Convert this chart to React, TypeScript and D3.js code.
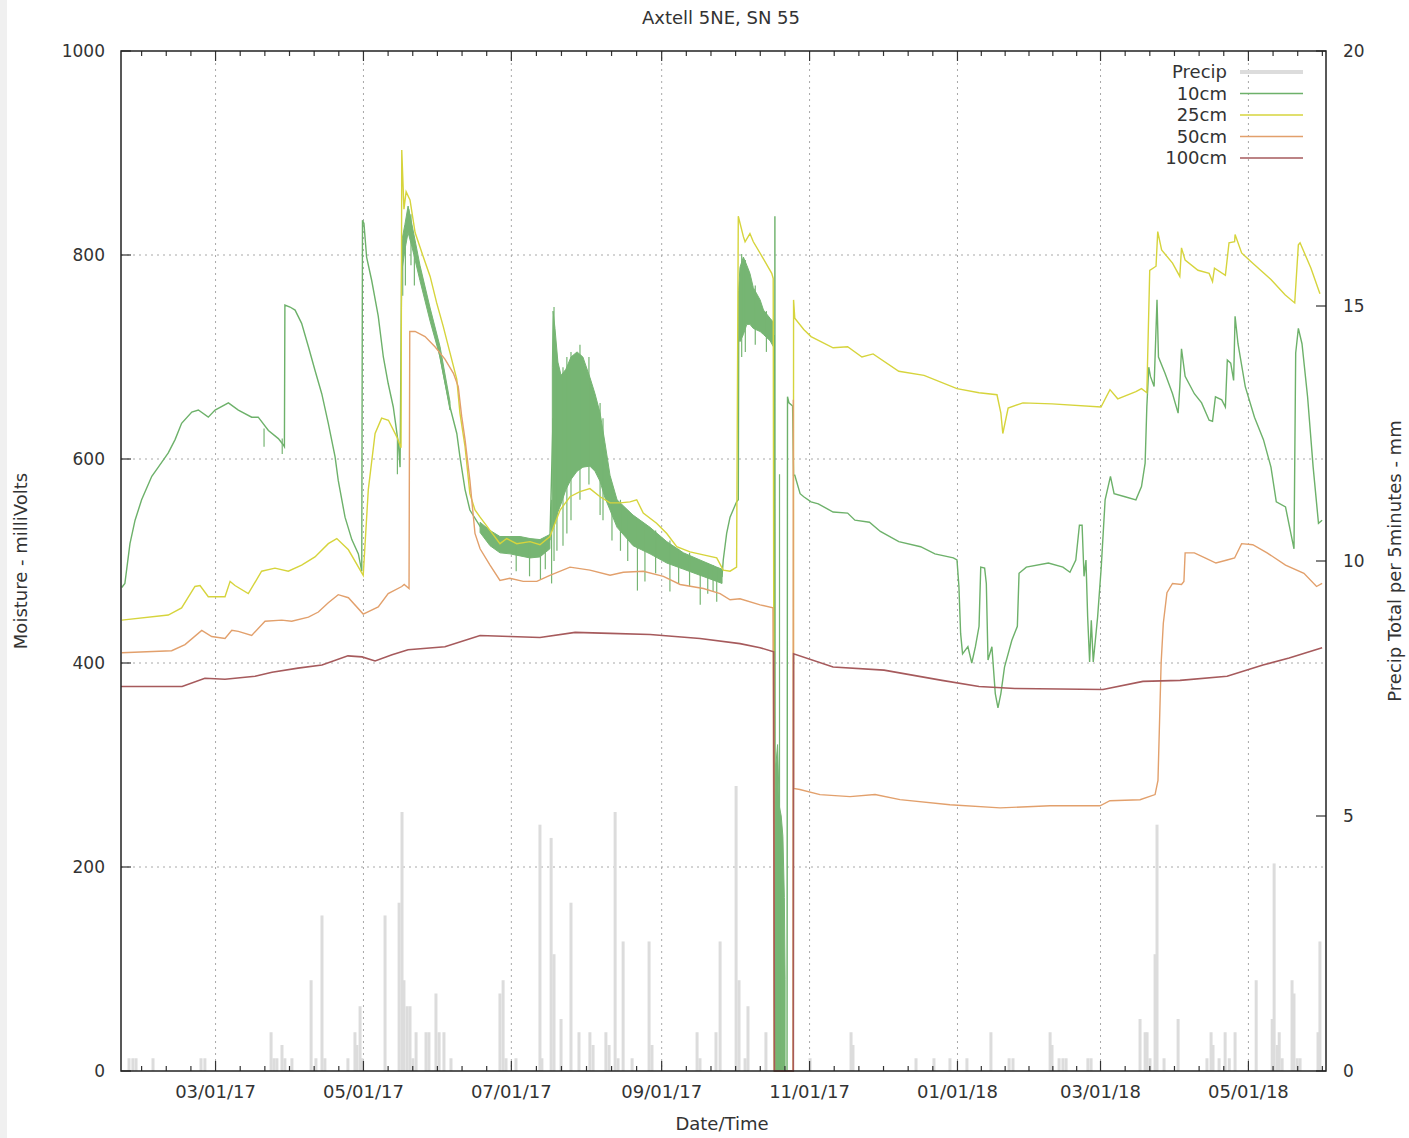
import React from 'react';
import * as d3 from 'd3';

// ---------- data (day = days since 2017-01-01, UTC) ----------
const titleText = 'Axtell 5NE, SN 55';
const xDomainDays: [number, number] = [20, 517];
const leftTicks = [0, 200, 400, 600, 800, 1000];
const rightTicks = [0, 5, 10, 15, 20];
const legendLabels = ['Precip', '10cm', '25cm', '50cm', '100cm'];

// precip total per 5 minutes (mm)
const precip: [number, number][] = [
  [23.3, 0.25], [24.9, 0.25], [26.2, 0.25], [33.2, 0.25], [53.0, 0.25], [54.6, 0.25],
  [81.9, 0.76], [83.1, 0.25], [84.3, 0.25], [86.4, 0.51], [87.6, 0.25], [90.5, 0.25],
  [98.4, 1.78], [100.4, 0.25], [102.9, 3.05], [104.1, 0.25], [113.6, 0.25], [116.5, 0.76],
  [117.3, 0.51], [118.6, 1.27], [119.4, 0.25], [128.9, 3.05], [134.7, 3.30], [135.9, 5.08],
  [136.7, 1.78], [138.0, 1.27], [139.2, 1.27], [140.4, 0.25], [141.7, 0.76], [145.8, 0.76],
  [147.0, 0.76], [149.9, 1.52], [151.2, 0.76], [153.2, 0.76], [156.1, 0.25], [176.3, 1.52],
  [177.6, 1.78], [178.8, 0.25], [182.9, 0.25], [192.8, 4.83], [193.6, 0.25], [197.4, 4.57],
  [198.6, 2.29], [201.5, 1.02], [205.6, 3.30], [208.9, 0.76], [213.4, 0.76], [214.7, 0.51],
  [220.0, 0.76], [221.3, 0.51], [223.8, 5.08], [225.0, 0.25], [227.1, 2.54], [230.8, 0.25],
  [237.8, 2.54], [239.0, 0.51], [257.6, 0.76], [258.8, 0.25], [265.4, 0.76], [267.1, 2.54],
  [273.7, 5.59], [274.9, 1.78], [277.4, 0.25], [278.6, 1.27], [286.0, 0.76], [304.2, 0.25],
  [321.1, 0.76], [321.9, 0.51], [347.9, 0.25], [355.3, 0.25], [361.9, 0.25], [368.9, 0.25],
  [378.8, 0.76], [386.3, 0.25], [387.9, 0.25], [403.2, 0.76], [404.0, 0.51], [406.9, 0.25],
  [408.5, 0.25], [409.8, 0.25], [418.8, 0.25], [420.1, 0.25], [440.3, 1.02], [442.4, 0.76],
  [443.2, 0.76], [444.4, 0.25], [446.5, 2.29], [447.3, 4.83], [450.2, 0.25], [456.0, 1.02],
  [467.9, 0.25], [469.6, 0.76], [470.4, 0.51], [472.9, 0.25], [475.4, 0.76], [477.1, 0.25],
  [479.5, 0.76], [488.2, 1.78], [494.8, 1.02], [495.6, 4.07], [496.9, 0.51], [497.7, 0.76],
  [498.9, 0.25], [503.0, 1.78], [503.8, 1.52], [505.1, 0.25], [506.3, 0.25], [513.7, 0.76],
  [514.5, 2.54],
];

// 10cm soil moisture (mV)
const soil10: [number, number][] = [
  [20.3, 474], [21.6, 478], [23.7, 517], [25.8, 540], [28.5, 560], [32.7, 583], [35.4, 592],
  [39.5, 606], [42.3, 619], [45.0, 635], [49.2, 646], [51.9, 648], [56.0, 641], [58.8, 648],
  [64.3, 655], [68.4, 648], [73.9, 641], [76.6, 641], [80.8, 628], [84.9, 620], [86.9, 614],
  [87.4, 612], [87.6, 751], [89.7, 749], [91.8, 746], [94.5, 733], [97.3, 710], [100.0, 687],
  [102.8, 664], [105.5, 635], [108.3, 602], [109.6, 579], [112.4, 543], [115.2, 521],
  [117.9, 507], [119.3, 490], [119.6, 834], [120.2, 831], [121.3, 798], [123.4, 775],
  [126.1, 740], [128.2, 700], [130.2, 674], [132.3, 651], [134.4, 615], [135.1, 592],
  [135.8, 802], [136.7, 815], [137.8, 830], [138.6, 845], [139.2, 835], [142.0, 798],
  [144.7, 772], [147.5, 740], [150.2, 717], [152.9, 684], [155.7, 651], [158.5, 625],
  [159.8, 602], [161.9, 570], [163.9, 550], [168.1, 534], [172.2, 524], [176.3, 516],
  [184.6, 515], [192.8, 513], [196.9, 521], [198.2, 640], [199.0, 635], [200.2, 622],
  [201.5, 620], [203.5, 630], [205.6, 641], [208.1, 647], [210.5, 647], [213.4, 637],
  [215.5, 628], [217.6, 613], [219.6, 590], [221.7, 567], [224.6, 545], [231.2, 530],
  [238.2, 520], [245.2, 508], [251.8, 500], [258.8, 493], [265.8, 487], [267.9, 485],
  [268.4, 501], [269.8, 527], [271.2, 543], [273.9, 558], [274.6, 560], [274.8, 745],
  [276.7, 755], [278.1, 760], [279.4, 756], [280.8, 748], [283.6, 740], [285.0, 733],
  [287.7, 727], [289.1, 721], [289.4, 716], [289.5, 0], [289.7, 838], [289.8, 0],
  [294.7, 0], [294.9, 661], [295.5, 655], [297.0, 652], [297.4, 584], [297.9, 584],
  [300.1, 566], [301.6, 563], [304.6, 558], [307.6, 556], [313.7, 548], [319.7, 547],
  [322.7, 540], [328.7, 538], [333.2, 529], [340.8, 519], [349.8, 514], [355.7, 507],
  [363.3, 503], [364.8, 501], [365.6, 475], [366.3, 429], [367.1, 409], [369.3, 416],
  [370.9, 400], [372.4, 416], [373.9, 436], [374.6, 494], [376.2, 493], [376.9, 478],
  [377.6, 403], [379.2, 416], [380.6, 370], [381.7, 356], [382.9, 370], [384.4, 396],
  [387.4, 422], [389.7, 436], [390.4, 488], [393.4, 494], [402.5, 498], [408.5, 494],
  [411.4, 489], [413.8, 501], [415.3, 535], [416.4, 535], [417.2, 485], [418.0, 501],
  [418.7, 445], [419.5, 401], [420.2, 442], [421.0, 401], [422.8, 445], [424.3, 494],
  [425.9, 560], [428.1, 583], [429.6, 566], [434.1, 563], [438.6, 560], [440.9, 573],
  [442.4, 596], [443.1, 651], [443.9, 690], [444.6, 681], [446.1, 671], [447.3, 756],
  [447.9, 700], [450.6, 684], [453.7, 664], [456.0, 645], [456.7, 671], [457.4, 708],
  [458.9, 681], [462.7, 664], [465.7, 655], [468.8, 638], [470.2, 637], [471.4, 661],
  [474.0, 658], [475.5, 651], [476.3, 697], [477.7, 694], [478.9, 677], [479.5, 740],
  [480.7, 713], [483.7, 671], [487.5, 641], [491.2, 619], [494.3, 592], [496.5, 558],
  [500.3, 553], [502.5, 527], [503.8, 512], [504.5, 704], [505.6, 728], [507.1, 713],
  [509.4, 661], [511.7, 592], [513.9, 537], [515.4, 540],
];

// 10cm noisy bands: [day, low, high]
const soil10BandEarly: [number, number, number][] = [
  [135.9, 785, 815], [137.1, 805, 830], [138.4, 822, 848], [140.0, 808, 830],
  [143.3, 775, 790], [147.5, 735, 748], [151.6, 700, 710], [155.7, 648, 656],
];
const soil10BandSummer: [number, number, number][] = [
  [168.1, 528, 538], [172.2, 515, 530], [176.3, 508, 524], [180.4, 507, 524],
  [184.6, 505, 524], [188.7, 503, 522], [192.8, 504, 521], [196.9, 512, 526],
];
const soil10BandSwing: [number, number, number][] = [
  [197.9, 530, 690], [198.2, 532, 745], [199.0, 537, 728], [200.2, 548, 695],
  [201.5, 556, 682], [203.5, 570, 688], [205.6, 580, 700], [208.1, 588, 705],
  [210.5, 592, 700], [213.4, 593, 680], [215.5, 588, 664], [217.6, 578, 645],
  [219.6, 562, 616], [221.7, 550, 584], [224.6, 533, 560], [231.2, 515, 545],
  [238.2, 507, 533], [245.1, 498, 519], [252.0, 492, 508], [258.8, 486, 501],
  [265.7, 480, 494], [267.9, 478, 492],
];
const soil10BandFall: [number, number, number][] = [
  [274.7, 720, 765], [275.3, 715, 788], [276.7, 722, 798], [278.1, 732, 790],
  [279.4, 732, 782], [280.8, 728, 768], [283.6, 725, 756], [285.0, 722, 746],
  [287.7, 716, 738], [289.1, 710, 734],
];
const soil10BandOutage: [number, number, number][] = [
  [289.9, 0, 120], [290.1, 0, 300], [290.8, 0, 320], [291.5, 0, 260], [292.3, 0, 250],
  [293.0, 0, 230], [293.6, 0, 170], [293.9, 0, 90],
];
const soil10Spikes: [number, number, number][] = [
  [79.0, 612, 630], [86.5, 605, 620], [134.0, 585, 620], [136.2, 760, 800], [137.3, 770, 810],
  [139.6, 790, 840], [141.0, 770, 800], [183.0, 490, 515], [188.5, 485, 515],
  [193.0, 482, 513], [195.0, 492, 515], [197.6, 478, 560], [198.6, 500, 749],
  [199.8, 510, 700], [202.3, 515, 690], [203.9, 527, 700], [205.6, 540, 705],
  [209.3, 560, 712], [213.0, 575, 700], [217.6, 545, 655], [218.8, 540, 640],
  [222.5, 520, 575], [226.0, 510, 560], [229.0, 500, 545], [233.0, 471, 540],
  [236.1, 480, 535], [240.5, 488, 530], [246.4, 470, 520], [250.0, 478, 512],
  [254.5, 475, 508], [258.9, 457, 500], [262.0, 468, 498], [264.2, 470, 496],
  [265.7, 460, 494], [276.0, 700, 801], [277.5, 705, 795], [281.6, 712, 770],
  [286.2, 705, 745], [291.6, 0, 585],
];

// 25cm soil moisture (mV)
const soil25: [number, number][] = [
  [20.3, 442], [39.5, 447], [45.0, 454], [50.5, 475], [52.6, 476], [56.0, 465], [62.9, 465],
  [65.0, 480], [67.0, 476], [72.5, 468], [78.0, 490], [83.5, 493], [89.0, 490], [94.5, 496],
  [100.0, 504], [105.5, 517], [109.0, 522], [113.8, 511], [119.9, 486], [122.0, 570],
  [124.8, 625], [127.5, 640], [130.3, 638], [133.7, 622], [135.5, 611], [135.8, 903],
  [136.7, 845], [137.6, 862], [139.2, 854], [141.3, 822], [144.7, 798], [147.5, 779],
  [150.2, 753], [152.9, 730], [155.7, 704], [158.5, 678], [159.8, 645], [161.9, 612],
  [163.9, 566], [166.0, 550], [168.1, 543], [172.2, 530], [176.3, 517], [179.1, 522],
  [183.2, 517], [188.7, 519], [192.8, 516], [196.9, 524], [201.1, 550], [205.2, 563],
  [209.3, 568], [213.4, 571], [217.6, 563], [221.7, 557], [225.8, 557], [229.9, 558],
  [232.7, 560], [235.4, 547], [240.9, 537], [245.1, 527], [249.2, 514], [254.7, 509],
  [260.2, 506], [265.7, 503], [268.4, 491], [271.2, 490], [273.9, 494], [274.6, 838],
  [276.7, 818], [277.4, 813], [279.4, 821], [280.8, 813], [284.3, 799], [288.4, 782],
  [289.0, 777], [289.5, 0], [297.3, 0], [297.4, 756], [297.9, 738], [301.6, 727],
  [304.6, 720], [313.7, 709], [319.7, 710], [325.6, 700], [330.2, 703], [340.8, 686],
  [351.2, 682], [364.8, 669], [373.9, 665], [381.3, 663], [382.9, 645], [383.7, 625],
  [385.9, 650], [392.0, 655], [404.0, 654], [424.2, 651], [427.9, 668], [431.1, 659],
  [438.6, 666], [440.9, 669], [443.1, 665], [444.3, 785], [446.9, 789], [447.6, 823],
  [449.2, 805], [453.7, 792], [456.7, 779], [457.4, 807], [458.9, 795], [464.2, 785],
  [468.8, 782], [470.2, 774], [471.0, 787], [475.5, 780], [477.0, 812], [479.3, 813],
  [479.5, 820], [482.2, 802], [486.8, 792], [494.3, 776], [500.1, 761], [504.1, 753],
  [505.6, 810], [506.3, 812], [510.8, 787], [514.5, 762],
];

// 50cm soil moisture (mV)
const soil50: [number, number][] = [
  [20.3, 410], [40.9, 412], [46.4, 418], [53.3, 432], [57.4, 426], [62.9, 424], [65.7, 432],
  [68.4, 431], [73.9, 427], [79.4, 441], [86.3, 442], [90.4, 441], [97.3, 445], [101.4, 450],
  [105.5, 459], [109.6, 467], [113.8, 464], [119.9, 448], [126.1, 455], [130.2, 468],
  [135.8, 475], [136.8, 477], [138.8, 473], [139.1, 725], [141.3, 725], [145.4, 720],
  [149.5, 710], [153.6, 698], [157.1, 684], [159.1, 671], [160.5, 642], [161.9, 619],
  [163.9, 579], [166.0, 527], [168.1, 512], [172.2, 496], [176.3, 481], [180.4, 483],
  [185.9, 480], [191.5, 480], [196.9, 486], [205.2, 494], [213.4, 491], [221.7, 486],
  [227.2, 489], [235.4, 490], [243.7, 485], [250.6, 477], [260.2, 473], [267.1, 468],
  [271.2, 462], [275.3, 463], [283.6, 457], [288.9, 454], [289.5, 0], [297.2, 0],
  [297.3, 658], [297.4, 277], [300.0, 276], [308.3, 271], [320.7, 269], [331.0, 271],
  [341.3, 266], [361.9, 261], [382.6, 258], [403.2, 260], [423.8, 260], [427.9, 265],
  [440.3, 266], [446.5, 271], [447.7, 285], [449.0, 400], [449.9, 439], [451.4, 469],
  [453.7, 478], [457.4, 477], [458.4, 480], [458.9, 508], [462.7, 508], [467.1, 503],
  [471.6, 498], [476.2, 501], [479.3, 503], [482.2, 517], [486.8, 516], [492.7, 508],
  [500.3, 496], [507.9, 488], [513.1, 475], [515.4, 478],
];

// 100cm soil moisture (mV)
const soil100: [number, number][] = [
  [20.0, 377], [45.2, 377], [54.6, 385], [62.9, 384], [75.3, 387], [82.3, 391], [93.0, 395],
  [102.9, 398], [113.6, 407], [119.4, 406], [124.8, 402], [131.8, 408], [138.4, 413],
  [153.6, 416], [168.1, 427], [180.4, 426], [192.8, 425], [207.3, 430], [221.7, 429],
  [238.2, 428], [258.8, 424], [275.3, 419], [283.6, 415], [289.2, 411], [289.5, 0],
  [297.3, 0], [297.4, 409], [313.7, 396], [334.7, 393], [358.6, 383], [373.9, 377],
  [388.7, 375], [425.0, 374], [441.5, 382], [456.8, 383], [476.2, 387], [491.0, 398],
  [501.8, 405], [515.4, 415],
];

// ---------- styling ----------
const colors = {
  precip: '#dcdcdc',
  s10: '#6db16a',
  s10band: '#76b573',
  s25: '#d6d43c',
  s50: '#e2a06c',
  s100: '#a65a5c',
};
const FONT = 'DejaVu Sans, Verdana, sans-serif';

export default function App() {
  const W = 1409;
  const H = 1138;
  const L = 121, R = 1326, T = 51, B = 1071;

  const day0 = Date.UTC(2017, 0, 1);
  const toDate = (d: number) => new Date(day0 + d * 864e5);

  const x = d3.scaleUtc().domain(xDomainDays.map(toDate)).range([L, R]);
  const yL = d3.scaleLinear().domain([0, 1000]).range([B, T]);
  const yR = d3.scaleLinear().domain([0, 20]).range([B, T]);

  const majors = x.ticks(d3.utcMonth.every(2) as any);
  const fmt = d3.utcFormat('%m/%d/%y');
  const [d0, d1] = x.domain().map((d) => d.getTime());
  const minors: number[] = [];
  for (let i = 0; i < majors.length; i++) {
    const a = majors[i].getTime();
    const nxt = i < majors.length - 1 ? majors[i + 1].getTime() : a + (a - majors[i - 1].getTime());
    const step = (nxt - a) / 6;
    for (let k = 1; k < 6; k++) {
      const t = a + k * step;
      if (t < d1) minors.push(t);
    }
    if (i === 0) {
      for (let k = 1; k < 6; k++) {
        const t = a - k * step;
        if (t > d0) minors.push(t);
      }
    }
  }

  const line = d3
    .line<[number, number]>()
    .x((d) => x(toDate(d[0])))
    .y((d) => yL(d[1]));
  const band = d3
    .area<[number, number, number]>()
    .x((d) => x(toDate(d[0])))
    .y0((d) => yL(d[1]))
    .y1((d) => yL(d[2]));

  const lw = 1.4;
  const legendRows = [
    { label: legendLabels[0], color: colors.precip, w: 4 },
    { label: legendLabels[1], color: colors.s10, w: 1.3 },
    { label: legendLabels[2], color: colors.s25, w: 1.3 },
    { label: legendLabels[3], color: colors.s50, w: 1.3 },
    { label: legendLabels[4], color: colors.s100, w: 1.3 },
  ];

  const textColor = '#333';
  const fs = 18;

  return (
    <svg
      width={W}
      height={H}
      style={{ position: 'absolute', left: 0, top: 0, background: '#fff' }}
      fontFamily={FONT}
    >
      <rect x={0} y={0} width={W} height={H} fill="#fff" />
      <rect x={0} y={0} width={7} height={H} fill="#f0f0f0" />

      {/* grid */}
      <g stroke="#a8a8a8" strokeWidth={1} strokeDasharray="2,4">
        {majors.map((m, i) => (
          <line key={'gx' + i} x1={x(m)} x2={x(m)} y1={T} y2={B} />
        ))}
        {leftTicks
          .filter((t) => t > 0 && t < 1000)
          .map((t) => (
            <line key={'gy' + t} x1={L} x2={R} y1={yL(t)} y2={yL(t)} />
          ))}
      </g>

      {/* precipitation */}
      <g stroke={colors.precip} strokeWidth={3}>
        {precip.map((p, i) => (
          <line key={'p' + i} x1={x(toDate(p[0]))} x2={x(toDate(p[0]))} y1={yR(0)} y2={yR(p[1])} />
        ))}
      </g>

      {/* 10cm */}
      <path d={line(soil10) || ''} fill="none" stroke={colors.s10} strokeWidth={lw} />
      <g fill={colors.s10band} stroke={colors.s10band} strokeWidth={1}>
        {[soil10BandEarly, soil10BandSummer, soil10BandSwing, soil10BandFall, soil10BandOutage].map((b, i) => (
          <path key={'b' + i} d={band(b) || ''} />
        ))}
      </g>
      <g stroke={colors.s10band} strokeWidth={1.2}>
        {soil10Spikes.map((s, i) => (
          <line key={'s' + i} x1={x(toDate(s[0]))} x2={x(toDate(s[0]))} y1={yL(s[1])} y2={yL(s[2])} />
        ))}
      </g>
      <path d={line(soil25) || ''} fill="none" stroke={colors.s25} strokeWidth={lw} />
      <path d={line(soil50) || ''} fill="none" stroke={colors.s50} strokeWidth={lw} />
      <path d={line(soil100) || ''} fill="none" stroke={colors.s100} strokeWidth={1.6} />

      {/* ticks */}
      <g stroke="#333" strokeWidth={1.2}>
        {majors.map((m, i) => (
          <g key={'mt' + i}>
            <line x1={x(m)} x2={x(m)} y1={B} y2={B - 10} />
            <line x1={x(m)} x2={x(m)} y1={T} y2={T + 10} />
          </g>
        ))}
        {minors.map((t, i) => (
          <g key={'mn' + i}>
            <line x1={x(new Date(t))} x2={x(new Date(t))} y1={B} y2={B - 5} />
            <line x1={x(new Date(t))} x2={x(new Date(t))} y1={T} y2={T + 5} />
          </g>
        ))}
        {leftTicks.map((t) => (
          <line key={'lt' + t} x1={L} x2={L + 10} y1={yL(t)} y2={yL(t)} />
        ))}
        {rightTicks.map((t) => (
          <line key={'rt' + t} x1={R} x2={R - 10} y1={yR(t)} y2={yR(t)} />
        ))}
      </g>

      {/* border */}
      <rect x={L} y={T} width={R - L} height={B - T} fill="none" stroke="#222" strokeWidth={1.5} />

      {/* tick labels */}
      <g fill={textColor} fontSize={17}>
        {leftTicks.map((t) => (
          <text key={'ll' + t} x={L - 16} y={yL(t)} dy="0.35em" textAnchor="end">
            {t}
          </text>
        ))}
        {rightTicks.map((t) => (
          <text key={'rl' + t} x={R + 17} y={yR(t)} dy="0.35em" textAnchor="start">
            {t}
          </text>
        ))}
      </g>
      <g fill={textColor} fontSize={fs}>
        {majors.map((m, i) => (
          <text key={'xl' + i} x={x(m)} y={B + 21} dy="0.35em" textAnchor="middle">
            {fmt(m)}
          </text>
        ))}
      </g>

      {/* titles */}
      <g fill={textColor} fontSize={fs}>
        <text x={721} y={18} dy="0.35em" textAnchor="middle">
          {titleText}
        </text>
        <text x={722} y={1124} dy="0.35em" textAnchor="middle">
          Date/Time
        </text>
        <text transform="translate(21,561) rotate(-90)" dy="0.35em" textAnchor="middle">
          Moisture - milliVolts
        </text>
        <text transform="translate(1395,561) rotate(-90)" dy="0.35em" textAnchor="middle">
          Precip Total per 5minutes - mm
        </text>
      </g>

      {/* legend */}
      <g fontSize={fs} fill={textColor}>
        {legendRows.map((r, i) => {
          const yy = 72 + i * 21.5;
          return (
            <g key={'lg' + i}>
              <text x={1227} y={yy} dy="0.35em" textAnchor="end">
                {r.label}
              </text>
              <line x1={1240} x2={1303} y1={yy} y2={yy} stroke={r.color} strokeWidth={r.w} />
            </g>
          );
        })}
      </g>
    </svg>
  );
}
